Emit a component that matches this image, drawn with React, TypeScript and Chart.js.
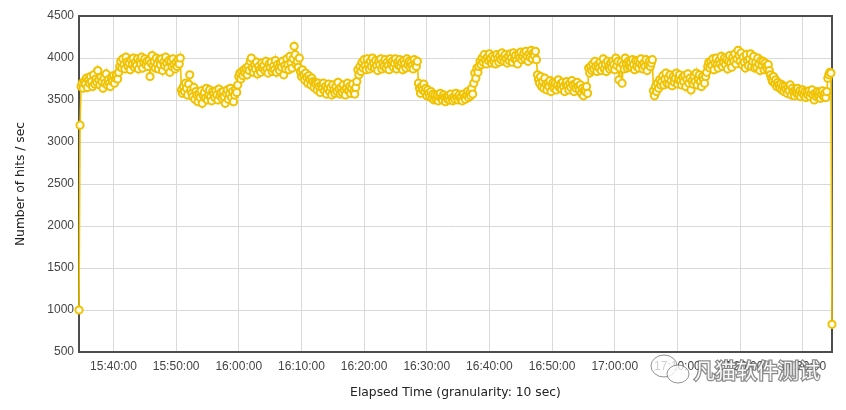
import React, { useEffect, useRef } from "react";
import { Chart, registerables } from "chart.js";

Chart.register(...registerables);

// First sample time (seconds since midnight): 15:34:30, one sample every 10 sec
const startTime = "15:34:30";
const granularitySec = 10;

// Hits per second, one row per minute (6 samples of 10 sec)
const hitsPerSec: number[] = [
  1000, 3200, 3660, 3700, 3640, 3720,
  3690, 3760, 3650, 3740, 3700, 3780,
  3720, 3660, 3800, 3690, 3750, 3710,
  3850, 3740, 3680, 3770, 3720, 3640,
  3760, 3700, 3810, 3680, 3740, 3700,
  3660, 3770, 3720, 3790, 3700, 3760,
  3800, 3750, 3830, 3900, 3960, 3880,
  3990, 3920, 3870, 4010, 3950, 3900,
  3940, 3860, 3980, 3920, 4000, 3890,
  3950, 3910, 3990, 3870, 3960, 3930,
  4010, 3880, 3950, 3990, 3920, 3960,
  3900, 3970, 3780, 3940, 4030, 3910,
  3960, 3880, 4000, 3930, 3870, 3980,
  3920, 3990, 3850, 3950, 3910, 4010,
  3940, 3880, 3970, 3830, 3960, 3900,
  3990, 3920, 3870, 3950, 3900, 3980,
  3930, 4000, 3620, 3580, 3660, 3600,
  3700, 3640, 3560, 3690, 3800, 3620,
  3580, 3540, 3650, 3510, 3600, 3560,
  3480, 3570, 3530, 3610, 3460, 3550,
  3590, 3520, 3640, 3500, 3560, 3620,
  3540, 3490, 3600, 3570, 3530, 3610,
  3560, 3500, 3630, 3550, 3590, 3520,
  3600, 3540, 3460, 3580, 3620, 3510,
  3570, 3640, 3530, 3600, 3480, 3560,
  3620, 3590, 3680, 3780, 3820, 3750,
  3840, 3790, 3860, 3820, 3880, 3800,
  3900, 3850, 3960, 4000, 3880, 3830,
  3920, 3870, 3950, 3810, 3900, 3860,
  3830, 3940, 3880, 3910, 3850, 3960,
  3870, 3820, 3930, 3890, 3950, 3840,
  3900, 3860, 3970, 3830, 3920, 3880,
  3850, 3940, 3890, 3960, 3800, 3910,
  3870, 3990, 3920, 3860, 4020, 3940,
  3880, 3990, 4140, 4040, 3920, 3960,
  3890, 4000, 3840, 3780, 3860, 3800,
  3740, 3820, 3770, 3700, 3790, 3750,
  3680, 3760, 3720, 3650, 3710, 3690,
  3620, 3700, 3660, 3590, 3680, 3640,
  3700, 3610, 3660, 3570, 3640, 3690,
  3600, 3650, 3560, 3680, 3620, 3580,
  3660, 3600, 3710, 3630, 3570, 3650,
  3590, 3680, 3620, 3560, 3640, 3700,
  3610, 3660, 3580, 3640, 3690, 3600,
  3570, 3650, 3720, 3860, 3800, 3900,
  3840, 3950, 3880, 3980, 3910, 3860,
  3990, 3920, 3870, 3960, 3900, 4000,
  3940, 3880, 3970, 3910, 3850, 3960,
  3920, 3990, 3870, 3940, 3900, 3980,
  3880, 3950, 3910, 3860, 3990, 3930,
  3960, 3890, 3940, 3990, 3870, 3950,
  3910, 3980, 3900, 3950, 3860, 3970,
  3930, 3880, 3990, 3920, 3960, 3890,
  3950, 3910, 3870, 3980, 3930, 3900,
  3960, 3700, 3640, 3580, 3660, 3620,
  3690, 3600, 3640, 3550, 3620, 3580,
  3540, 3600, 3520, 3570, 3500, 3560,
  3510, 3550, 3490, 3540, 3580, 3520,
  3500, 3560, 3530, 3480, 3540, 3510,
  3550, 3500, 3570, 3520, 3490, 3540,
  3510, 3580, 3530, 3500, 3560, 3520,
  3540, 3490, 3570, 3530, 3510, 3560,
  3600, 3530, 3580, 3550, 3640, 3570,
  3700, 3820, 3760, 3880, 3830, 3900,
  3960, 3920, 4000, 3950, 4040, 3980,
  3930, 4010, 3970, 4050, 3990, 3940,
  4020, 3960, 4000, 3930, 4040, 3990,
  3950, 4030, 3980, 4060, 4000, 3960,
  4040, 3990, 3940, 4020, 3970, 4050,
  4000, 3950, 4060, 3990, 4030, 3970,
  3930, 4040, 4000, 4070, 3980, 4020,
  4060, 3990, 4080, 4020, 3960, 4050,
  4010, 4090, 3990, 4060, 4030, 4080,
  3980, 3800, 3740, 3700, 3780, 3660,
  3720, 3640, 3760, 3690, 3620, 3700,
  3660, 3730, 3600, 3680, 3710, 3640,
  3700, 3620, 3680, 3740, 3650, 3690,
  3630, 3710, 3660, 3600, 3690, 3720,
  3670, 3620, 3700, 3650, 3730, 3680,
  3600, 3690, 3640, 3710, 3660, 3620,
  3680, 3580, 3640, 3550, 3620, 3600,
  3660, 3580, 3880, 3820, 3900, 3850,
  3930, 3870, 3960, 3900, 3840, 3920,
  3880, 3950, 3850, 3910, 3990, 3870,
  3930, 3840, 3960, 3900, 3870, 3940,
  3890, 3960, 3920, 3860, 4000, 3910,
  3960, 3740, 3880, 3950, 3700, 3920,
  3870, 4000, 3930, 3880, 3960, 3900,
  3950, 3890, 3980, 3920, 3860, 3970,
  3900, 3960, 3880, 3940, 3990, 3910,
  3870, 3940, 3900, 3980, 3850, 3920,
  3960, 3900, 3940, 3980, 3610, 3550,
  3660, 3600, 3700, 3640, 3740, 3680,
  3720, 3790, 3680, 3750, 3820, 3700,
  3760, 3690, 3800, 3730, 3670, 3780,
  3710, 3760, 3820, 3690, 3740, 3800,
  3730, 3680, 3770, 3720, 3790, 3660,
  3750, 3810, 3700, 3760, 3620, 3730,
  3690, 3780, 3720, 3820, 3680, 3750,
  3800, 3720, 3660, 3780, 3740, 3700,
  3780, 3830, 3900, 3950, 3880, 3960,
  3910, 3990, 3860, 3940, 4000, 3920,
  3880, 3970, 3930, 4020, 3900, 3950,
  4000, 3920, 3980, 3870, 3960, 4030,
  3940, 3890, 4010, 3960, 4050, 3930,
  3990, 4090, 4030, 3960, 4060, 3920,
  4010, 3950, 3880, 4040, 3970, 3910,
  3990, 4050, 3900, 3960, 4020, 3880,
  3950, 3890, 4000, 3930, 3850, 3970,
  3910, 3960, 3860, 3940, 3900, 3870,
  3920, 3850, 3800, 3760, 3720, 3780,
  3700, 3740, 3660, 3710, 3680, 3640,
  3690, 3620, 3670, 3600, 3660, 3630,
  3580, 3650, 3610, 3680, 3560, 3640,
  3600, 3550, 3620, 3580, 3640, 3570,
  3610, 3540, 3590, 3620, 3560, 3600,
  3530, 3590, 3560, 3610, 3540, 3580,
  3620, 3560, 3500, 3580, 3540, 3600,
  3550, 3590, 3520, 3570, 3610, 3540,
  3580, 3530, 3600, 3760, 3800, 3830,
  3820, 830,
];

const xTickLabels = [
  "15:40:00", "15:50:00", "16:00:00", "16:10:00", "16:20:00", "16:30:00",
  "16:40:00", "16:50:00", "17:00:00", "17:10:00", "17:20:00", "17:30:00",
];
const yMin = 500;
const yMax = 4500;
const yStep = 500;

const xTitle = "Elapsed Time (granularity: 10 sec)";
const yTitle = "Number of hits / sec";
const watermark = "凡猫软件测试";

const toSec = (s: string) => {
  const [h, m, sec] = s.split(":").map(Number);
  return h * 3600 + m * 60 + sec;
};
const fmt = (v: number) => {
  const h = Math.floor(v / 3600);
  const m = Math.floor((v % 3600) / 60);
  const s = Math.round(v % 60);
  const p = (n: number) => String(n).padStart(2, "0");
  return `${p(h)}:${p(m)}:${p(s)}`;
};

const YELLOW = "#f0c200";
const AXIS = "#4d4d4d";
const GRID = "#d9d9d9";

export default function App() {
  const ref = useRef<HTMLCanvasElement | null>(null);

  useEffect(() => {
    if (!ref.current) return;
    const t0 = toSec(startTime);
    const data = hitsPerSec.map((v, i) => ({ x: t0 + i * granularitySec, y: v }));
    const xMin = data[0].x;
    const xMax = data[data.length - 1].x;

    const framePlugin = {
      id: "frame",
      beforeDatasetsDraw(chart: any) {
        const { ctx, chartArea: a } = chart;
        ctx.save();
        ctx.strokeStyle = AXIS;
        ctx.lineWidth = 2;
        ctx.strokeRect(a.left, a.top, a.right - a.left, a.bottom - a.top);
        ctx.restore();
      },
      afterDraw(chart: any) {
        const ctx = chart.ctx;
        ctx.save();
        // small chat-bubble icon of the watermark
        ctx.strokeStyle = "rgba(110,110,110,0.75)";
        ctx.fillStyle = "rgba(255,255,255,0.75)";
        ctx.lineWidth = 1;
        ctx.beginPath();
        ctx.ellipse(664, 366, 13, 11, 0, 0, Math.PI * 2);
        ctx.fill();
        ctx.stroke();
        ctx.beginPath();
        ctx.ellipse(678, 374, 11, 9, 0, 0, Math.PI * 2);
        ctx.fill();
        ctx.stroke();
        ctx.font = '21px "Noto Sans CJK SC"';
        ctx.textBaseline = "middle";
        ctx.textAlign = "left";
        ctx.lineWidth = 2.5;
        ctx.strokeStyle = "rgba(110,110,110,0.8)";
        ctx.strokeText(watermark, 694, 370);
        ctx.fillStyle = "rgba(255,255,255,0.95)";
        ctx.fillText(watermark, 694, 370);
        ctx.restore();
      },
    };

    const chart = new Chart(ref.current, {
      type: "line",
      data: {
        datasets: [
          {
            data,
            borderColor: YELLOW,
            borderWidth: 1.6,
            pointRadius: 3.6,
            pointBorderWidth: 2,
            pointBackgroundColor: "#fffdf0",
            pointBorderColor: YELLOW,
            tension: 0,
            clip: false as any,
          },
        ],
      },
      options: {
        animation: false,
        responsive: false,
        maintainAspectRatio: false,
        layout: { padding: { left: 0, top: 16, right: 14, bottom: 0 } },
        plugins: { legend: { display: false }, tooltip: { enabled: false } },
        scales: {
          x: {
            type: "linear",
            min: xMin,
            max: xMax,
            afterBuildTicks: (s: any) => {
              s.ticks = xTickLabels.map((l) => ({ value: toSec(l) }));
            },
            afterFit: (s: any) => {
              s.height = 58;
            },
            ticks: {
              autoSkip: false,
              maxRotation: 0,
              padding: 7,
              color: "#444",
              font: { family: '"Liberation Sans", Arial, sans-serif', size: 12 },
              callback: (v: any) => fmt(Number(v)),
            },
            grid: { color: GRID, lineWidth: 1, drawTicks: false },
            border: { display: false },
            title: {
              display: true,
              text: xTitle,
              color: "#222",
              font: { family: '"DejaVu Sans", sans-serif', size: 12.3 },
              padding: { top: 0, bottom: 10 },
            },
          },
          y: {
            type: "linear",
            min: yMin,
            max: yMax,
            afterFit: (s: any) => {
              s.width = 79;
            },
            ticks: {
              stepSize: yStep,
              padding: 5,
              color: "#444",
              font: { family: '"Liberation Sans", Arial, sans-serif', size: 12 },
              callback: (v: any) => String(v),
            },
            grid: { color: GRID, lineWidth: 1, drawTicks: false },
            border: { display: false },
            title: {
              display: true,
              text: yTitle,
              color: "#222",
              font: { family: '"DejaVu Sans", sans-serif', size: 12.3 },
              padding: { top: 13.5, bottom: 0 },
            },
          },
        },
      },
      plugins: [framePlugin],
    });
    return () => chart.destroy();
  }, []);

  return (
    <div style={{ position: "fixed", left: 0, top: 0, width: 846, height: 410, background: "#fff" }}>
      <canvas ref={ref} width={846} height={410} style={{ display: "block" }} />
    </div>
  );
}
